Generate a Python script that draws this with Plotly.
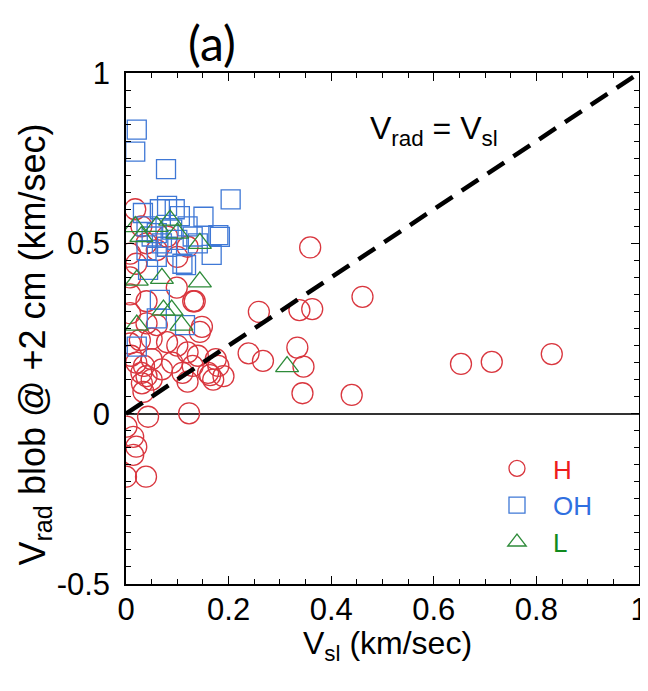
import plotly.graph_objects as go

# ---- data ----
h_x = [0.018, 0.03, 0.04, 0.06, 0.08, 0.10, 0.12, 0.008, 0.008, 0.02, 0.099, 0.131, 0.008, 0.04,
       0.008, 0.04, 0.148, 0.06, 0.008, 0.027, 0.05, 0.08, 0.10, 0.12, 0.14, 0.01, 0.02, 0.035,
       0.05, 0.07, 0.09, 0.11, 0.13, 0.16, 0.17, 0.18, 0.19, 0.175, 0.034, 0.031, 0.04, 0.03,
       0.05, 0.12, 0.164, 0.001, 0.014, 0.02, 0.014, 0.0, 0.039, 0.043, 0.123, 0.134, 0.144,
       0.239, 0.267, 0.259, 0.338, 0.363, 0.359, 0.461, 0.334, 0.346, 0.344, 0.44, 0.653,
       0.713, 0.830]
h_y = [0.60, 0.55, 0.50, 0.48, 0.52, 0.46, 0.49, 0.47, 0.40, 0.44, 0.37, 0.33, 0.35, 0.33,
       0.295, 0.265, 0.255, 0.26, 0.206, 0.216, 0.22, 0.21, 0.20, 0.18, 0.17, 0.17, 0.15, 0.14,
       0.16, 0.13, 0.15, 0.12, 0.14, 0.12, 0.10, 0.14, 0.11, 0.16, 0.064, 0.089, 0.11, 0.12,
       0.10, 0.094, 0.113, -0.038, -0.068, -0.097, -0.121, -0.185, -0.185, -0.009, 0.001, 0.33,
       0.24, 0.177, 0.155, 0.299, 0.304, 0.307, 0.488, 0.343, 0.194, 0.138, 0.06, 0.055, 0.146,
       0.152, 0.175]

oh_x = [0.021, 0.018, 0.078, 0.204, 0.066, 0.08, 0.095, 0.105, 0.033, 0.151, 0.18, 0.183,
        0.167, 0.04, 0.05, 0.06, 0.07, 0.09, 0.10, 0.12, 0.13, 0.04, 0.06, 0.11, 0.043, 0.066,
        0.06, 0.115, 0.021, 0.08, 0.14, 0.117]
oh_y = [0.834, 0.769, 0.718, 0.629, 0.60, 0.61, 0.60, 0.58, 0.589, 0.578, 0.524, 0.519,
        0.466, 0.55, 0.52, 0.53, 0.50, 0.54, 0.51, 0.55, 0.52, 0.48, 0.46, 0.44, 0.422, 0.334,
        0.28, 0.26, 0.197, 0.49, 0.50, 0.436]

l_x = [0.018, 0.086, 0.144, 0.021, 0.07, 0.144, 0.073, 0.089, 0.108, 0.021, 0.314, 0.03,
       0.06, 0.10]
l_y = [0.549, 0.568, 0.50, 0.392, 0.397, 0.387, 0.304, 0.304, 0.26, 0.26, 0.138, 0.52,
       0.55, 0.53]

x_tick_vals = [0, 0.2, 0.4, 0.6, 0.8, 1]
x_tick_text = ["0", "0.2", "0.4", "0.6", "0.8", "1"]
y_tick_vals = [-0.5, 0, 0.5, 1]
y_tick_text = ["-0.5", "0", "0.5", "1"]

RED = "#d9363e"
BLUE = "#3f78d6"
GREEN = "#2e8b3a"
FONT = "Liberation Sans, Arial, sans-serif"

fig = go.Figure()
fig.add_trace(go.Scatter(
    x=h_x, y=h_y, mode="markers",
    name="<span style='color:#ee1c1c'>H</span>",
    marker=dict(symbol="circle-open", size=21, color=RED, line=dict(width=1.3, color=RED)),
))
fig.add_trace(go.Scatter(
    x=oh_x, y=oh_y, mode="markers",
    name="<span style='color:#2f6fe0'>OH</span>",
    marker=dict(symbol="square-open", size=19, color=BLUE, line=dict(width=1.3, color=BLUE)),
))
fig.add_trace(go.Scatter(
    x=l_x, y=l_y, mode="markers",
    name="<span style='color:#118a1e'>L</span>",
    marker=dict(symbol="triangle-up-open", size=20, color=GREEN, line=dict(width=1.3, color=GREEN)),
))

# V_rad = V_sl reference line
fig.add_shape(type="line", x0=0, y0=0, x1=1, y1=1, xref="x", yref="y",
              line=dict(color="black", width=4.5, dash="20px,11px"))

axis_common = dict(
    showline=True, linecolor="black", linewidth=1.5, mirror="ticks",
    ticks="inside", ticklen=8, tickwidth=1.3, tickcolor="black",
    showgrid=False, automargin=False,
    tickfont=dict(family=FONT, size=31, color="black"),
)

fig.update_xaxes(
    range=[0, 1], tickvals=x_tick_vals, ticktext=x_tick_text, zeroline=False,
    minor=dict(dtick=0.05, tick0=0, ticks="inside", ticklen=5, tickwidth=1.2, tickcolor="black"),
    ticklabelstandoff=-3,
    **axis_common,
)
fig.update_yaxes(
    range=[-0.5, 1], tickvals=y_tick_vals, ticktext=y_tick_text,
    zeroline=True, zerolinecolor="#333333", zerolinewidth=1.5,
    minor=dict(dtick=0.05, tick0=0, ticks="inside", ticklen=5, tickwidth=1.2, tickcolor="black"),
    ticklabelstandoff=8,
    **axis_common,
)

# axis titles
fig.add_annotation(x=0.51, y=-0.12, xref="paper", yref="paper", showarrow=False,
                   xanchor="center", yanchor="middle",
                   text="V<sub>sl</sub> (km/sec)",
                   font=dict(family=FONT, size=32, color="black"))
fig.add_annotation(x=-0.178, y=0.468, xref="paper", yref="paper", showarrow=False,
                   xanchor="center", yanchor="middle", textangle=-90,
                   text="V<sub>rad</sub> blob @ +2 cm (km/sec)",
                   font=dict(family=FONT, size=36, color="black"))

fig.add_annotation(x=0.6, y=0.83, xref="x", yref="y", showarrow=False,
                   xanchor="center", yanchor="middle",
                   text="V<sub>rad</sub> = V<sub>sl</sub>",
                   font=dict(family=FONT, size=32, color="black"))
fig.add_annotation(x=0.168, y=1.059, xref="paper", yref="paper", showarrow=False,
                   xanchor="center", yanchor="middle",
                   text="(a)", font=dict(family="Lato, Open Sans, sans-serif", size=48, color="black"))

# the page body adds an 8px offset, so the figure is 8px smaller and margins shifted
fig.update_layout(
    width=640, height=683,
    margin=dict(l=118, r=9, t=65, b=107),
    plot_bgcolor="white", paper_bgcolor="white",
    showlegend=True,
    legend=dict(x=0.692, y=0.272, xanchor="left", yanchor="top",
                bgcolor="rgba(0,0,0,0)", font=dict(family=FONT, size=26),
                tracegroupgap=0, itemwidth=62),
)

fig.write_html("out.html")
